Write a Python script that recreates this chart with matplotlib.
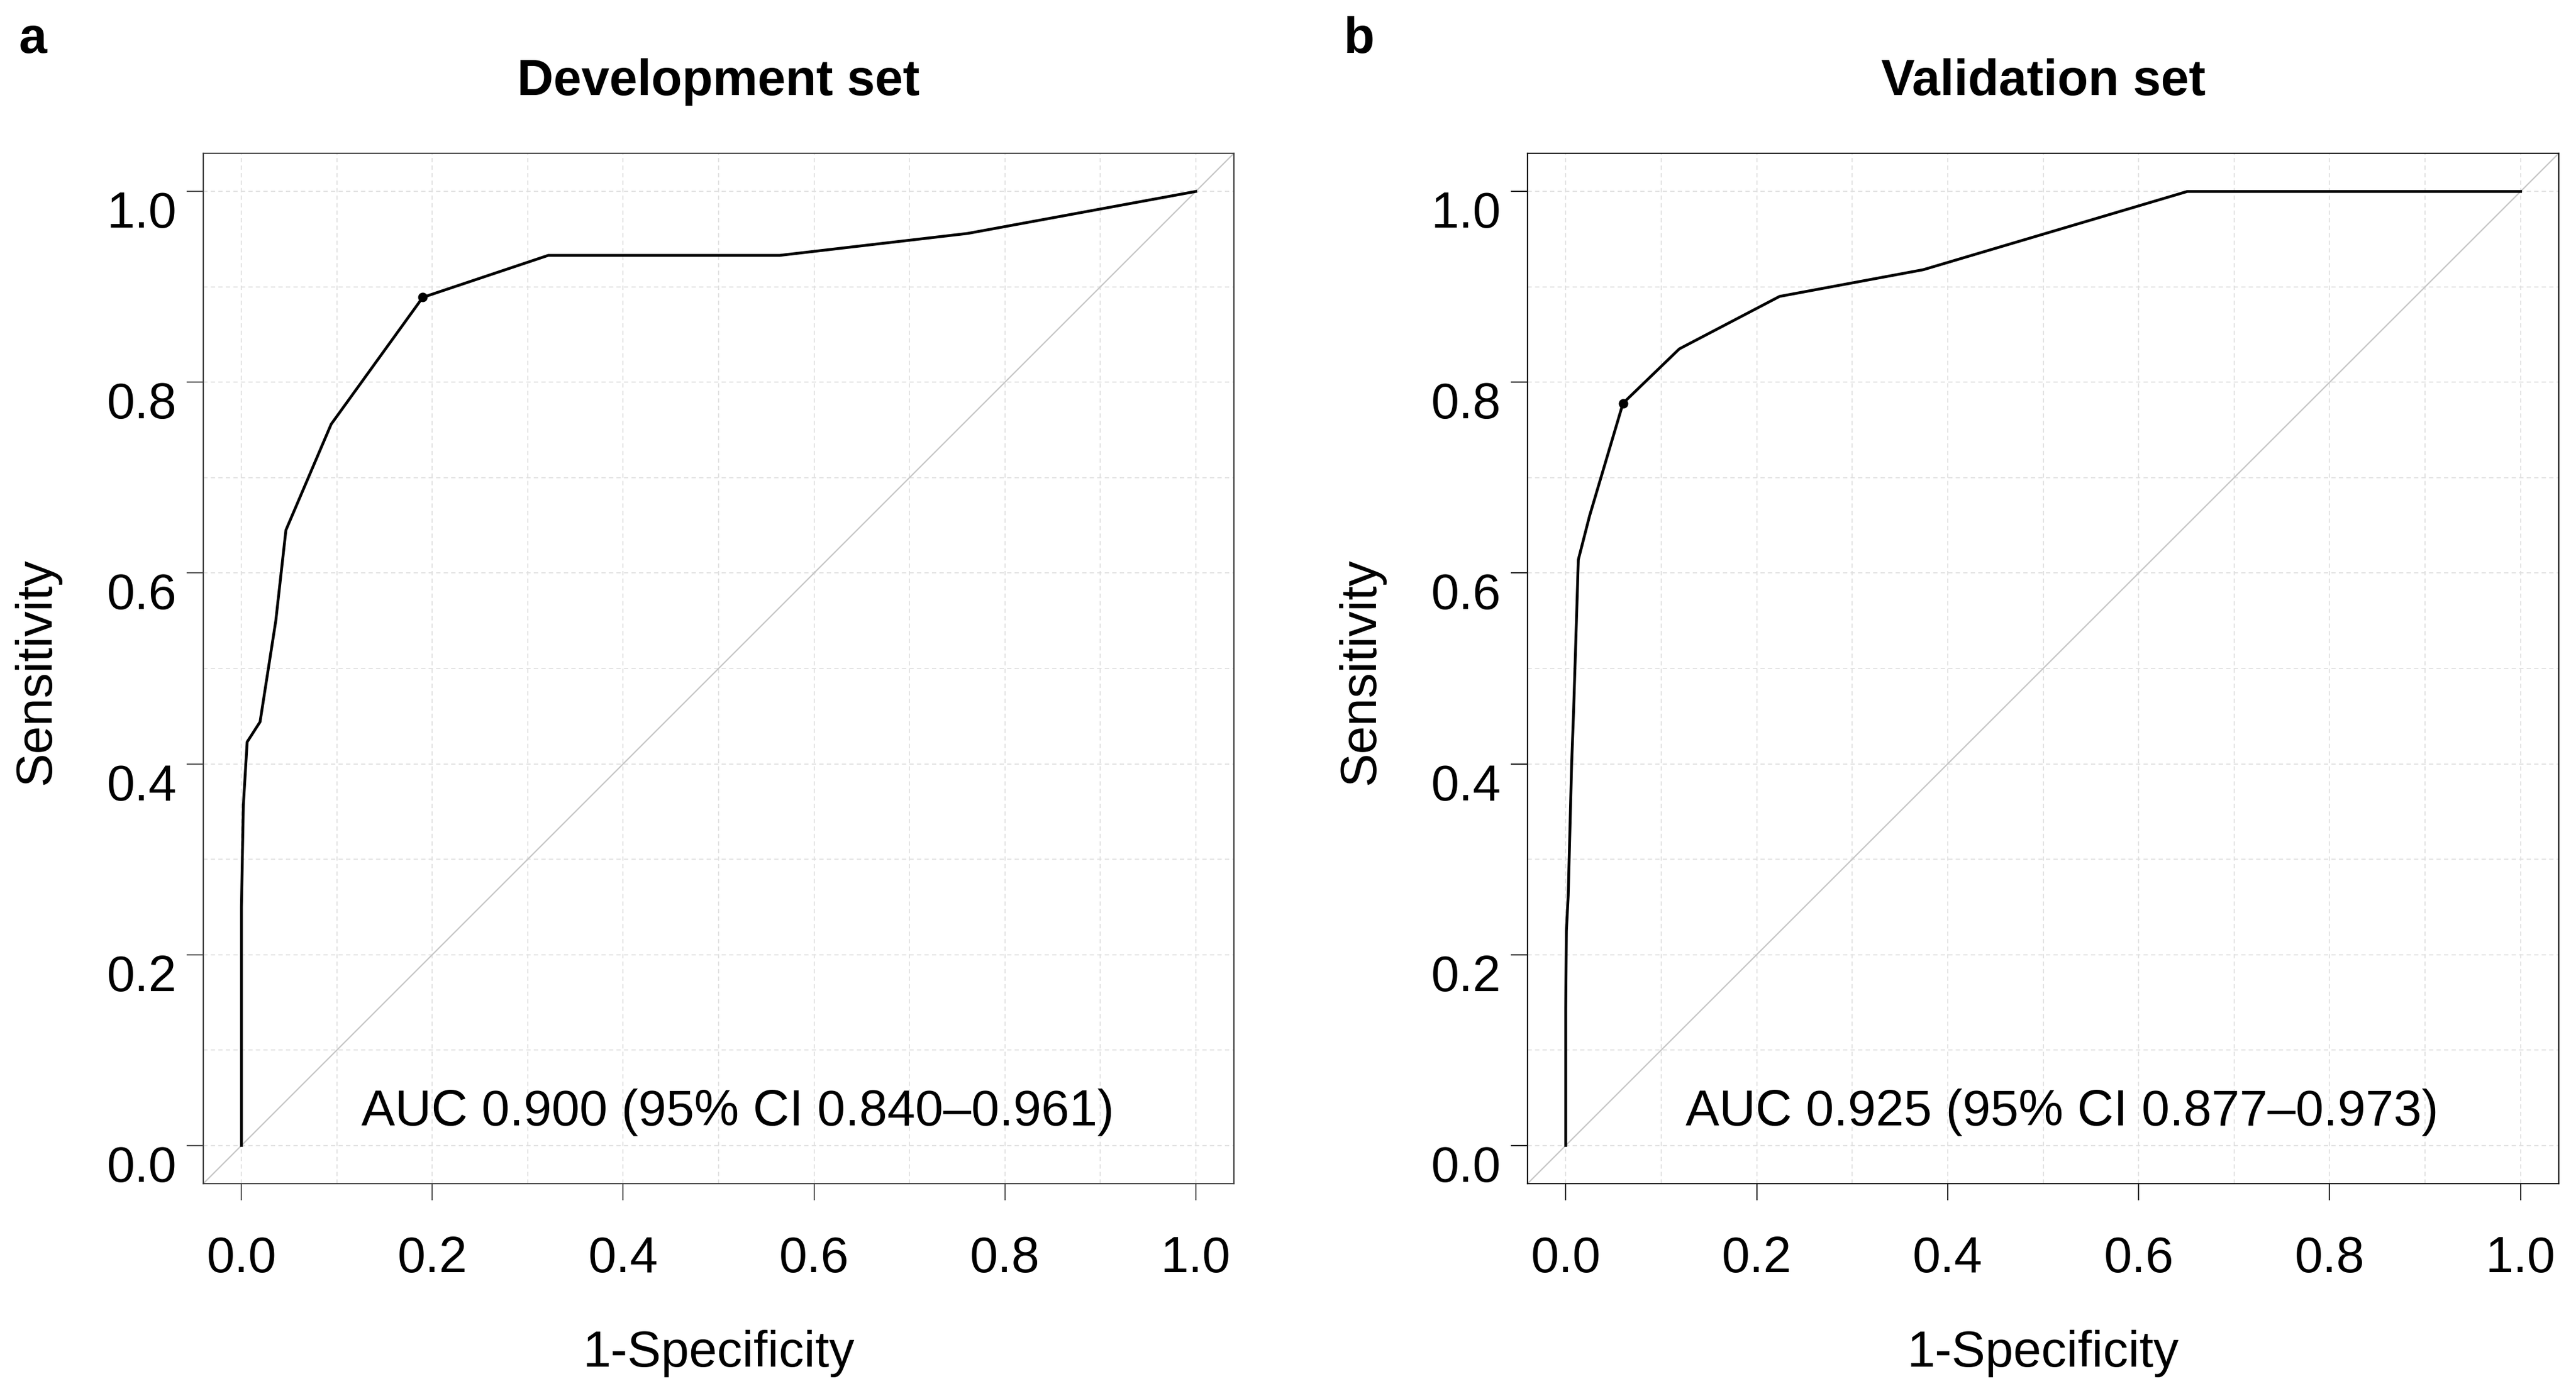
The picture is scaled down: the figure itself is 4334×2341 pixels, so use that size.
import matplotlib
matplotlib.use("Agg")
import matplotlib.pyplot as plt
from matplotlib.ticker import MultipleLocator
from matplotlib.transforms import ScaledTranslation

# ---------------- data ----------------
panel_letters = ["a", "b"]
titles = ["Development set", "Validation set"]

fpr_dev = [0.0, 0.0, 0.002, 0.006, 0.0195, 0.036, 0.0466, 0.094, 0.19, 0.3215, 0.564, 0.761, 1.0]
tpr_dev = [0.0, 0.25, 0.357, 0.423, 0.444, 0.550, 0.645, 0.756, 0.889, 0.933, 0.933, 0.956, 1.0]
cut_fpr_dev = [0.19]
cut_tpr_dev = [0.889]
auc_dev = "AUC 0.900 (95% CI 0.840\u20130.961)"

fpr_val = [0.0, 0.0, 0.0007, 0.0026, 0.0062, 0.0082, 0.0102, 0.0132, 0.025, 0.06, 0.119, 0.224, 0.3745, 0.651, 1.0]
tpr_val = [0.0, 0.144, 0.225, 0.262, 0.400, 0.454, 0.517, 0.614, 0.660, 0.778, 0.835, 0.890, 0.918, 1.0, 1.0]
cut_fpr_val = [0.06]
cut_tpr_val = [0.778]
auc_val = "AUC 0.925 (95% CI 0.877\u20130.973)"

tick_values = [0.0, 0.2, 0.4, 0.6, 0.8, 1.0]
tick_labels = ["0.0", "0.2", "0.4", "0.6", "0.8", "1.0"]
xlabel = "1-Specificity"
ylabel = "Sensitivity"

# ---------------- figure ----------------
W, H, DPI = 4334, 2341, 100
plt.rcParams["font.family"] = ["Liberation Sans", "DejaVu Sans"]
fig = plt.figure(figsize=(W / DPI, H / DPI), dpi=DPI)
FS = 61


def fx(x):
    return x / W


def fy(y):
    return 1 - y / H


boxes = [(342, 258, 1734, 1734), (2570, 258, 1735, 1734)]
frame_colors = ["#404040", "#111111"]
tick_colors = ["#555555", "#222222"]
curves = [(fpr_dev, tpr_dev, cut_fpr_dev, cut_tpr_dev, auc_dev),
          (fpr_val, tpr_val, cut_fpr_val, cut_tpr_val, auc_val)]

for i, (l, t, w, h) in enumerate(boxes):
    ax = fig.add_axes([fx(l), fy(t + h), w / W, h / H])
    fpr, tpr, cfpr, ctpr, auc = curves[i]
    ax.set_xlim(-0.04, 1.04)
    ax.set_ylim(-0.04, 1.04)
    ax.set_xticks(tick_values)
    ax.set_xticklabels(tick_labels)
    ax.set_yticks(tick_values)
    ax.set_yticklabels(tick_labels)
    ax.xaxis.set_minor_locator(MultipleLocator(0.1))
    ax.yaxis.set_minor_locator(MultipleLocator(0.1))
    ax.set_axisbelow(True)
    ax.grid(which="both", color="#e0e0e0", lw=1.3, linestyle=(0, (4, 3)))
    ax.tick_params(which="minor", length=0)
    ax.tick_params(which="major", direction="out", length=20, width=1.5,
                   color=tick_colors[i], labelsize=FS, labelcolor="black")
    ax.tick_params(axis="y", pad=12)
    ax.tick_params(axis="x", pad=43)
    for sp in ax.spines.values():
        sp.set_color(frame_colors[i])
        sp.set_linewidth(1.6)

    ax.axline((0, 0), slope=1, color="#c6c6c6", lw=1.6, zorder=2)
    ax.plot(fpr, tpr, color="black", lw=3.4, solid_joinstyle="round", zorder=3)
    ax.plot(cfpr, ctpr, "o", color="black", ms=10.5, zorder=4)
    ax.text(0.52, 0.021, auc, ha="center", va="baseline", fontsize=FS, zorder=5)

    off = ScaledTranslation(0, -30 / DPI, fig.dpi_scale_trans)
    for tk in ax.yaxis.get_major_ticks():
        tk.label1.set_transform(tk.label1.get_transform() + off)

    cx = l + w / 2
    fig.text(fx(cx), fy(160), titles[i], ha="center", va="baseline",
             fontsize=FS, fontweight="bold")
    fig.text(fx(l - 310), fy(89), panel_letters[i], ha="left", va="baseline",
             fontsize=FS, fontweight="bold")
    fig.text(fx(cx), fy(2300), xlabel, ha="center", va="baseline", fontsize=FS)
    fig.text(fx(l - 258), fy(t + 872), ylabel, rotation=90, rotation_mode="anchor",
             ha="center", va="baseline", fontsize=FS)

fig.savefig("out.png", dpi=DPI, facecolor="white")
